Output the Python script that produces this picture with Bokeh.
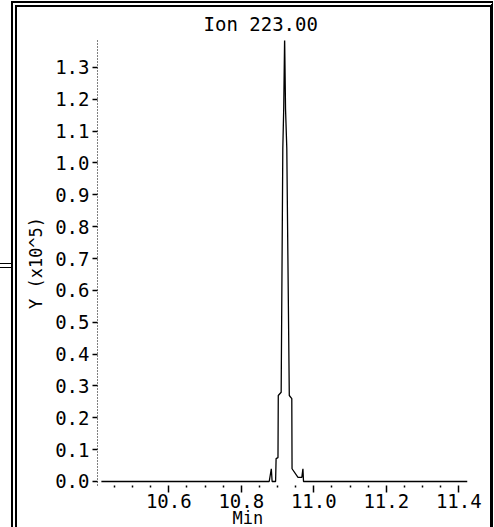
from bokeh.plotting import figure
from bokeh.models import FixedTicker, PrintfTickFormatter, Range1d, Title, InlineStyleSheet
from bokeh.embed import file_html
from bokeh.resources import INLINE

# Chromatogram trace (time in min, intensity in units of 1e5)
time_min = [10.414, 10.877, 10.8828, 10.885, 10.8946, 10.896, 10.9012, 10.902, 10.910,
            10.9145, 10.917, 10.9195, 10.922, 10.9255, 10.9324, 10.9393, 10.940,
            10.9564, 10.967, 10.970, 10.9716, 11.424]
intensity = [0.0, 0.0, 0.04, 0.0, 0.0, 0.072, 0.075, 0.27, 0.28,
             1.046, 1.17, 1.394, 1.17, 1.046, 0.27, 0.26, 0.04,
             0.013, 0.013, 0.04, 0.0, 0.0]

x_major = [10.6, 10.8, 11.0, 11.2, 11.4]
x_minor = [10.45, 10.5, 10.55, 10.65, 10.7, 10.75, 10.85, 10.9, 10.95,
           11.05, 11.1, 11.15, 11.25, 11.3, 11.35]
y_major = [0.0, 0.1, 0.2, 0.3, 0.4, 0.5, 0.6, 0.7, 0.8, 0.9, 1.0, 1.1, 1.2, 1.3]

title_text = "Ion 223.00"
x_label = "Min"
y_label = "Y (x10^5)"

FONT = "DejaVu Sans Mono"
FS = "19px"

frame_css = """
:host::before {
  content: ""; position: absolute; z-index: 100; pointer-events: none;
  box-sizing: border-box;
  left: 11px; top: 1px; width: 482px; height: 526px;
  border-top: 6px double black; border-left: 6px double black;
  border-right: 3px solid black; border-bottom: none;
}
:host::after {
  content: ""; position: absolute; z-index: 100; pointer-events: none;
  box-sizing: border-box;
  left: 0px; top: 262.5px; width: 12px; height: 5.5px;
  border-top: 1.5px solid black; border-bottom: 1.5px solid black;
}
"""

p = figure(width=494, height=527, output_backend="svg", toolbar_location=None,
           x_range=Range1d(10.4033, 11.424), y_range=Range1d(-0.0126, 1.3846),
           min_border_left=97, min_border_right=27, min_border_top=40, min_border_bottom=42,
           title=None, stylesheets=[InlineStyleSheet(css=frame_css)])
p.outline_line_color = None
p.background_fill_color = "white"
p.border_fill_color = "white"
p.xgrid.visible = False
p.ygrid.visible = False

p.add_layout(Title(text=title_text, align="left", offset=106, text_font=FONT,
                   text_font_size=FS, text_font_style="normal", text_color="black",
                   standoff=11), "above")

p.line(time_min, intensity, line_color="black", line_width=1.3)

xa = p.xaxis[0]
xa.ticker = FixedTicker(ticks=x_major, minor_ticks=x_minor)
xa.formatter = PrintfTickFormatter(format="%.1f")
xa.axis_line_color = "white"
xa.major_tick_in = 0
xa.major_tick_out = 7
xa.minor_tick_in = 0
xa.minor_tick_out = 2
xa.major_tick_line_color = "black"
xa.major_tick_line_width = 1.5
xa.minor_tick_line_color = "black"
xa.minor_tick_line_width = 1.5
xa.major_label_standoff = 1
xa.major_label_text_font = FONT
xa.major_label_text_font_size = FS
xa.major_label_text_color = "black"

ya = p.yaxis[0]
ya.ticker = FixedTicker(ticks=y_major, minor_ticks=[])
ya.formatter = PrintfTickFormatter(format="%.1f")
ya.axis_line_color = "black"
ya.axis_line_dash = "1 2"
ya.major_tick_in = 0
ya.major_tick_out = 5
ya.major_tick_line_width = 1.5
ya.minor_tick_line_color = None
ya.major_label_standoff = 3
ya.major_label_text_font = FONT
ya.major_label_text_font_size = FS
ya.major_label_text_color = "black"
ya.axis_label = y_label
ya.axis_label_text_font = FONT
ya.axis_label_text_font_size = "17px"
ya.axis_label_text_font_style = "normal"
ya.axis_label_text_color = "black"
ya.axis_label_standoff = 6

# x-axis label under the tick labels
p.add_layout(Title(text=x_label, align="left", offset=135, text_font=FONT,
                   text_font_size="17px", text_font_style="normal", text_color="black",
                   vertical_align="top", standoff=-6), "below")

open("out.html", "w").write(file_html(p, INLINE))
